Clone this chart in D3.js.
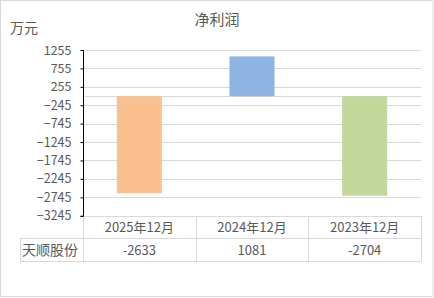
<!DOCTYPE html>
<meta charset="utf-8"/>
<style>
  body { margin: 0; background: #fff; }
  text { font-family: "Noto Sans CJK SC", "Noto Sans", sans-serif; fill: #595959; }
</style>
<svg width="434" height="298"></svg>
<script src="https://d3js.org/d3.v7.min.js"></script>
<script>

// data
var categories = ["2025年12月", "2024年12月", "2023年12月"]
var values = [-2633, 1081, -2704]
var seriesName = "天顺股份"
var tickValues = [1255, 755, 255, -245, -745, -1245, -1745, -2245, -2745, -3245]
var barColours = ["#FAC090", "#8DB4E2", "#C4D79B"]

var svg = d3.select("svg")

// outer frame
svg.append("rect")
    .attr("x", 0.5).attr("y", 0.5).attr("width", 432.5).attr("height", 296)
    .attr("fill", "#fff").attr("stroke", "#d9d9d9")

var plotLeft = 83, plotRight = 421, plotTop = 50, plotBottom = 215.7

var x = d3.scaleBand()
    .domain(categories)
    .range([plotLeft, plotRight])
    .paddingInner(0)

var y = d3.scaleLinear()
    .domain([-3245, 1255])
    .range([plotBottom, plotTop])

// gridlines
svg.append("g").selectAll("line")
    .data(tickValues.concat([0]))
    .enter().append("line")
    .attr("x1", plotLeft).attr("x2", plotRight)
    .attr("y1", d => Math.round(y(d)) + 0.5)
    .attr("y2", d => Math.round(y(d)) + 0.5)
    .attr("stroke", "#d9d9d9")

// bars
var bw = x.bandwidth() * 0.4
svg.append("g").selectAll("rect")
    .data(values)
    .enter().append("rect")
    .attr("x", (d, i) => x(categories[i]) + (x.bandwidth() - bw) / 2)
    .attr("width", bw)
    .attr("y", d => y(Math.max(0, d)))
    .attr("height", d => Math.abs(y(d) - y(0)))
    .attr("fill", (d, i) => barColours[i])

// y axis
var yAxis = d3.axisLeft(y)
    .tickValues(tickValues)
    .tickSize(3)
    .tickPadding(9)
    .tickFormat(d3.format("d"))

var ga = svg.append("g")
    .attr("transform", "translate(" + (plotLeft + 0.5) + ",0)")
    .call(yAxis)
ga.select(".domain").attr("stroke", "#000")
    .attr("d", "M-3," + (Math.round(plotBottom) + 0.5) + "H0V" + plotTop)
ga.selectAll(".tick line").attr("stroke", "#000")
ga.selectAll(".tick text")
    .style("font-size", "12.5px")
    .attr("fill", "#595959")

// data table
var row1 = plotBottom, row2 = 238.5, row3 = 261.5
var tbl = svg.append("g").attr("stroke", "#d9d9d9").attr("fill", "none")
tbl.append("line").attr("x1", 20).attr("x2", plotRight).attr("y1", row2).attr("y2", row2)
tbl.append("line").attr("x1", 20).attr("x2", plotRight).attr("y1", row3).attr("y2", row3)
tbl.append("line").attr("x1", 20.5).attr("x2", 20.5).attr("y1", row2).attr("y2", row3)
categories.forEach(function(c) {
    var xx = Math.round(x(c) + x.bandwidth()) + 0.5
    tbl.append("line").attr("x1", xx).attr("x2", xx).attr("y1", row1).attr("y2", row3)
})
tbl.append("line").attr("x1", plotLeft + 0.5).attr("x2", plotLeft + 0.5).attr("y1", plotBottom + 1).attr("y2", row3)

svg.append("g").selectAll("text")
    .data(categories)
    .enter().append("text")
    .attr("x", d => x(d) + x.bandwidth() / 2)
    .attr("y", (row1 + row2) / 2 + 5)
    .attr("text-anchor", "middle")
    .style("font-size", "13px")
    .text(d => d)

svg.append("g").selectAll("text")
    .data(values)
    .enter().append("text")
    .attr("x", (d, i) => x(categories[i]) + x.bandwidth() / 2)
    .attr("y", (row2 + row3) / 2 + 5)
    .attr("text-anchor", "middle")
    .style("font-size", "13px")
    .text(d => d)

svg.append("text")
    .attr("x", 22).attr("y", (row2 + row3) / 2 + 5)
    .style("font-size", "14px")
    .text(seriesName)

// titles
svg.append("text")
    .attr("x", 217).attr("y", 25)
    .attr("text-anchor", "middle")
    .style("font-size", "15px")
    .text("净利润")

svg.append("text")
    .attr("x", 10).attr("y", 33)
    .style("font-size", "14px")
    .text("万元")

</script>
